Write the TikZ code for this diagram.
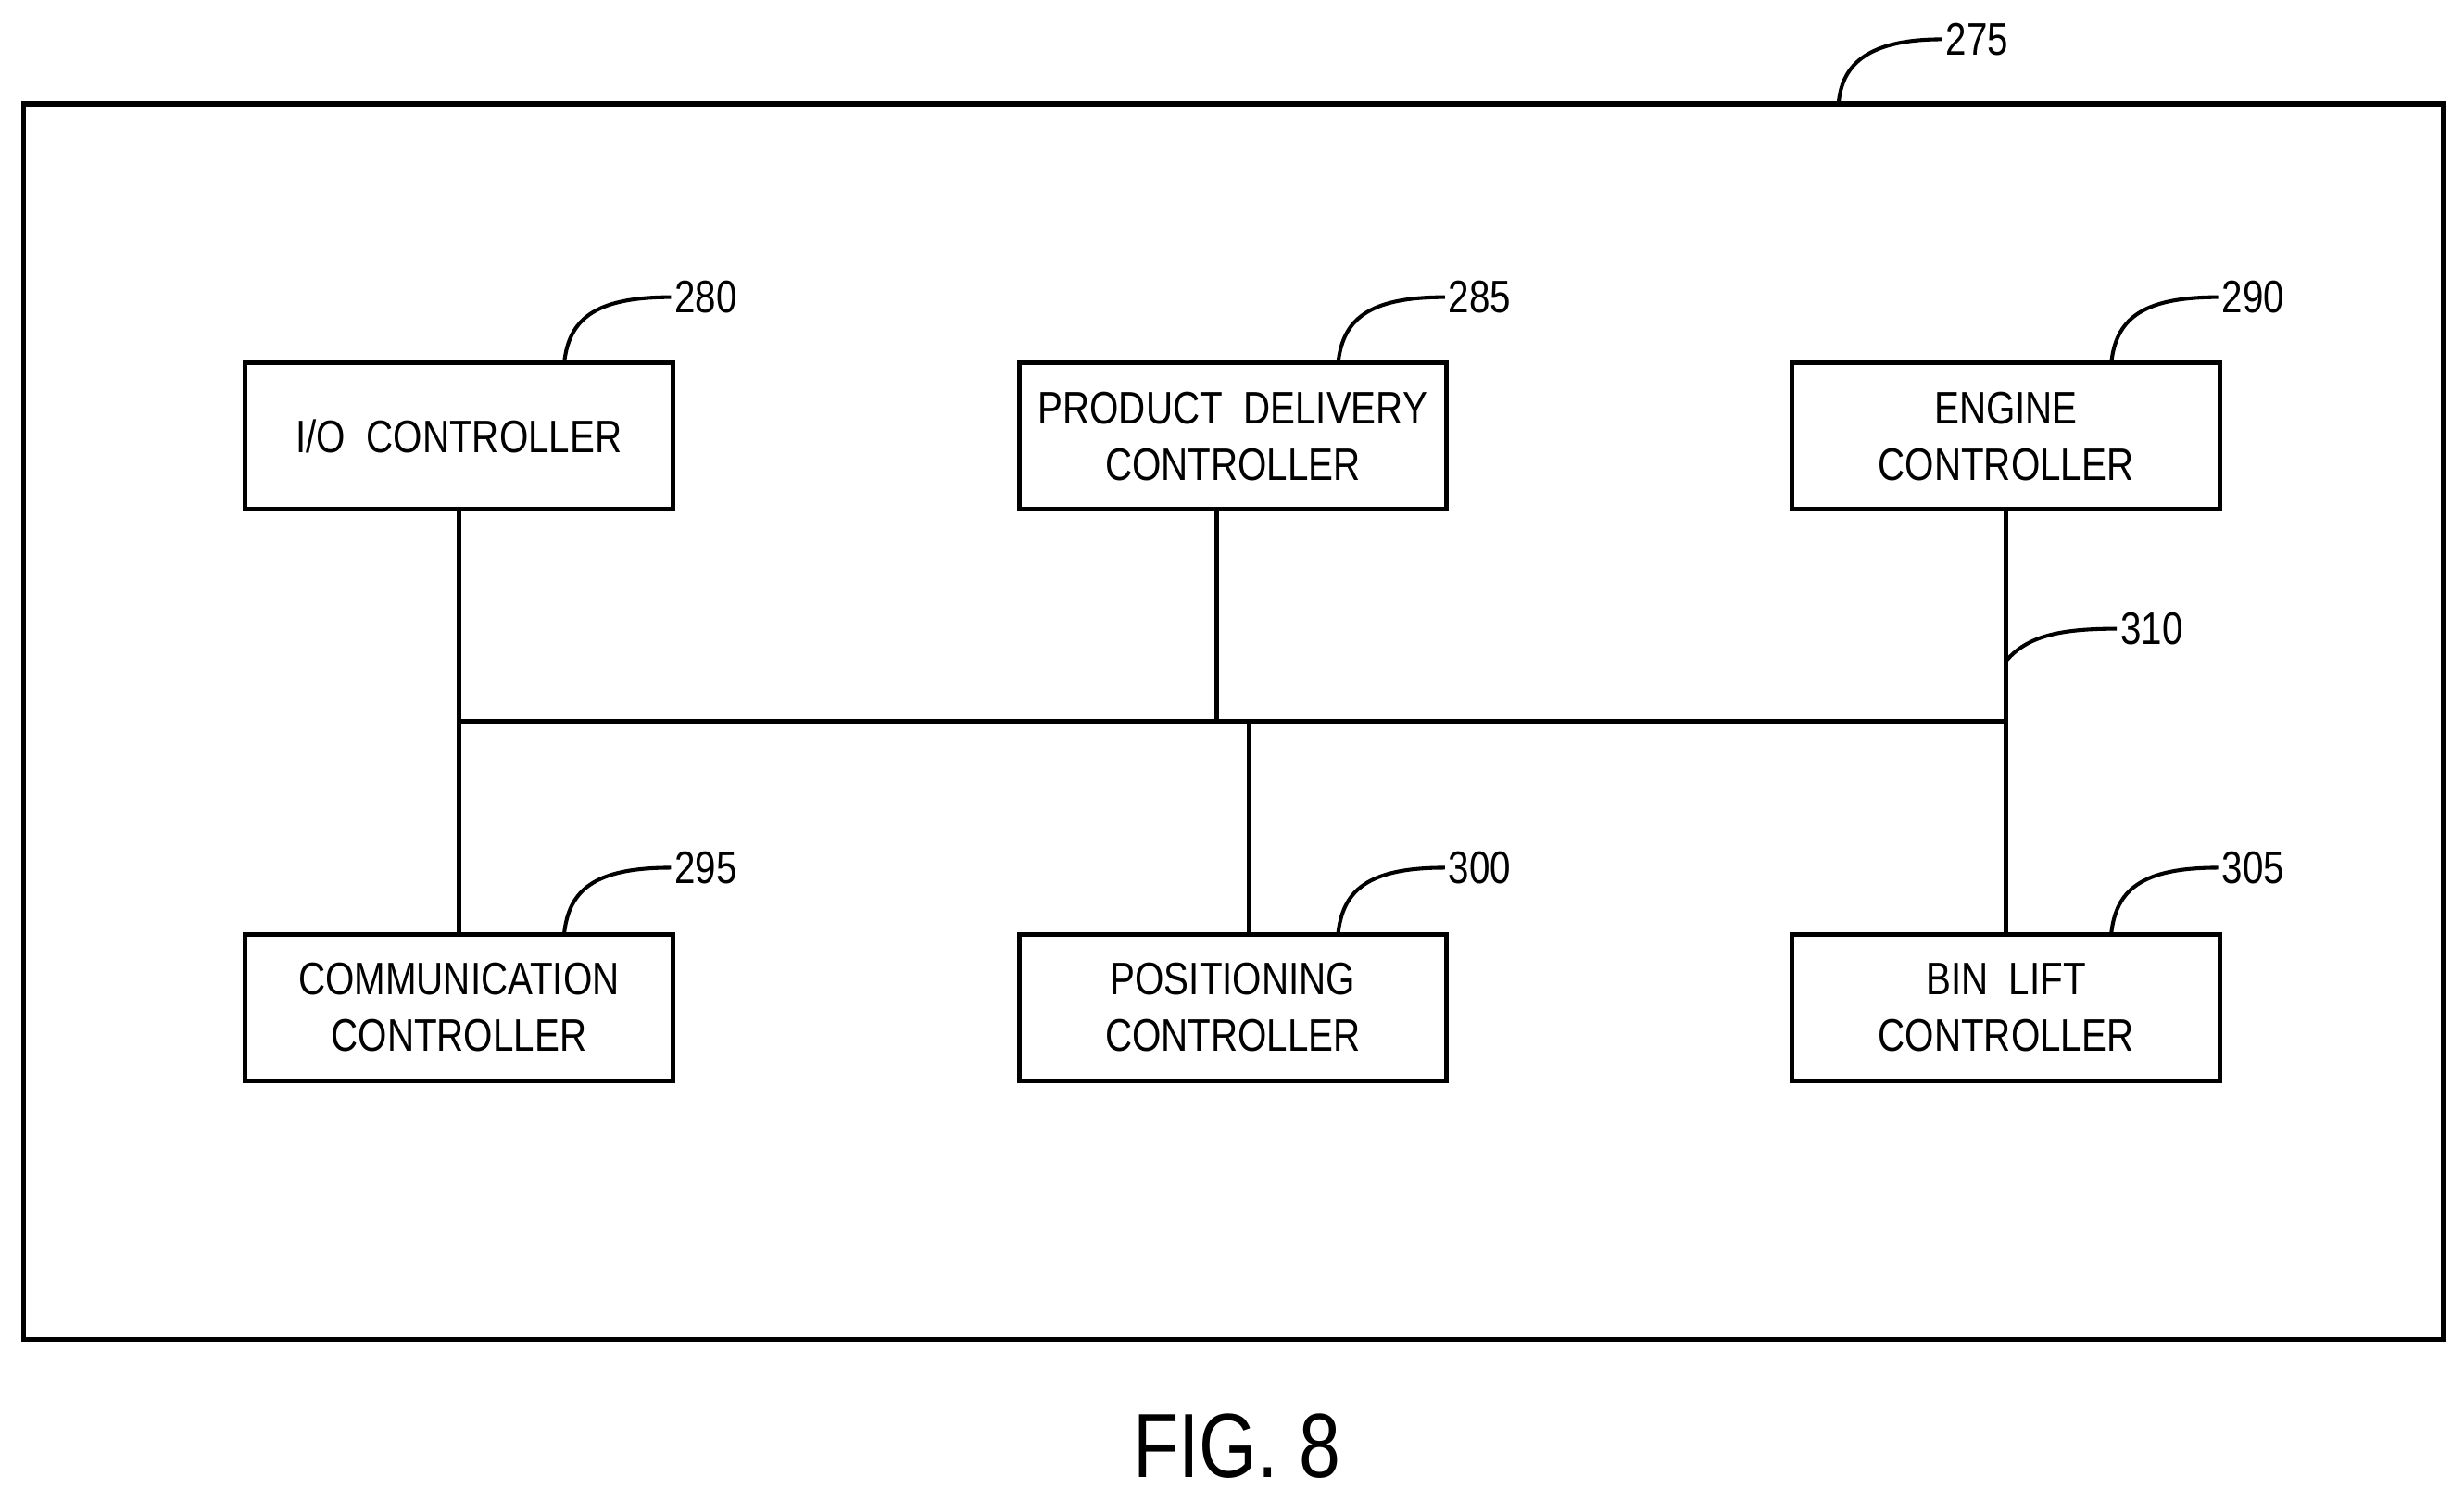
\documentclass[tikz,border=0pt]{standalone}
\usepackage{fontspec}
\setmainfont{Liberation Sans}[FakeStretch=0.82]
\begin{document}
\begin{tikzpicture}[x=0.5pt,y=-0.5pt,
  box/.style={draw,line width=1.5pt,minimum width=136pt,minimum height=46.5pt,inner sep=0pt,align=center,font=\fontsize{14.5}{18}\selectfont},
  ln/.style={line width=1.5pt},
  lead/.style={line width=1.2pt},
  num/.style={font=\fontsize{14.5}{18}\selectfont,anchor=west,inner sep=1pt}]
\useasboundingbox (0,0) rectangle (1568,955);
\draw[ln] (15,66) rectangle (1555,852);
\node[box] (io) at (292,277.5) {I/O\ \ CONTROLLER};
\node[box] (pd) at (784.5,277.5) {PRODUCT\ \ DELIVERY\\CONTROLLER};
\node[box] (en) at (1276.5,277.5) {ENGINE\\CONTROLLER};
\node[box] (cm) at (292,641) {COMMUNICATION\\CONTROLLER};
\node[box] (ps) at (784.5,641) {POSITIONING\\CONTROLLER};
\node[box] (bl) at (1276.5,641) {BIN\ \ LIFT\\CONTROLLER};
\coordinate (bL) at (292,459);
\coordinate (bR) at (1277,459);
\coordinate (b1) at (774,459);
\coordinate (b2) at (795,459);
\draw[ln] (bL) -- (bR);
\draw[ln] (io.south) -- (cm.north);
\draw[ln] (en.south) -- (bl.north);
\draw[ln] (pd.south -| b1) -- (b1);
\draw[ln] (b2) -- (ps.north -| b2);
% leaders
\node[num] (n275) at (1236,25) {275};
\draw[lead] (1170,66) .. controls (1172,40) and (1190,25) .. (n275.west);
\foreach \nm/\bx/\y/\lbl in {io/292/189/280,pd/784.5/189/285,en/1276.5/189/290,cm/292/552/295,ps/784.5/552/300,bl/1276.5/552/305}{
  \node[num] (n\lbl) at (\bx+135,\y) {\lbl};
  \draw[lead] (\bx+67,\y+42) .. controls (\bx+70,\y+15) and (\bx+85,\y) .. (n\lbl.west);
}
\node[num] (n310) at (1347,400) {310};
\coordinate (c310) at (1277,420);
\draw[lead] (c310) .. controls (1290,405) and (1310,400) .. (n310.west);
\node[font=\fontsize{29}{34}\selectfont] (fig) at (787,920) {FIG. 8};
\end{tikzpicture}
\end{document}
